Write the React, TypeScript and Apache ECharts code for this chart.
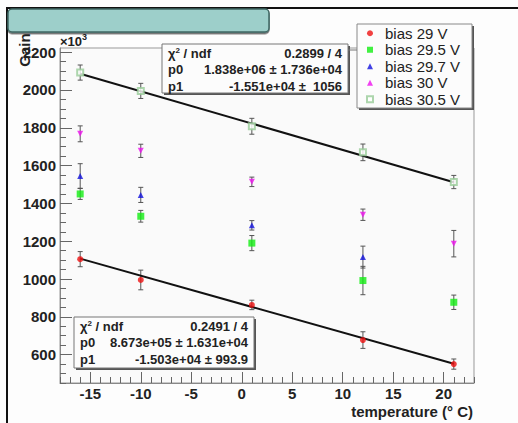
import React, { useEffect, useRef } from 'react';
import * as echarts from 'echarts';

// Data (Gain in units of 10^3)
const temps = [-16, -10, 1, 12, 21];
const gain29 = [1105, 995, 863, 677, 550];
const err29 = [40, 52, 25, 44, 27];
const gain295 = [1450, 1332, 1190, 992, 877];
const err295 = [29, 31, 40, 75, 38];
const temps297 = [-16, -10, 1, 12];
const gain297 = [1545, 1445, 1284, 1116];
const err297 = [65, 40, 25, 58];
const gain30 = [1768, 1678, 1514, 1340, 1187];
const err30 = [42, 35, 25, 30, 70];
const gain305 = [2092, 1995, 1808, 1670, 1513];
const err305 = [40, 40, 42, 44, 35];

const fit29 = { p0: 867.3, p1: -15.03 };
const fit305 = { p0: 1838, p1: -15.51 };

const xMajor = [-15, -10, -5, 0, 5, 10, 15, 20];
const yMajor = [600, 800, 1000, 1200, 1400, 1600, 1800, 2000, 2200];
const xRange = [-18, 23];
const yRange = [450, 2222];

const statTop = [
  ['\u03c7{sup|2} / ndf', '0.2899 / 4'],
  ['p0', '1.838e+06 \u00b1 1.736e+04'],
  ['p1', '-1.551e+04 \u00b1  1056'],
];
const statBottom = [
  ['\u03c7{sup|2} / ndf', '0.2491 / 4'],
  ['p0', '8.673e+05 \u00b1 1.631e+04'],
  ['p1', '-1.503e+04 \u00b1 993.9'],
];

const FONT = '"Liberation Sans", Arial, sans-serif';

function range(a: number, b: number, s: number) {
  const r: number[] = [];
  for (let v = a; v <= b + 1e-9; v += s) r.push(v);
  return r;
}

function zip(xs: number[], ys: number[], es?: number[]) {
  return xs.map((x, i) => (es ? [x, ys[i], es[i]] : [x, ys[i]]));
}

function fitLine(f: { p0: number; p1: number }, xs: number[]) {
  const a = xs[0];
  const b = xs[xs.length - 1];
  return [[a, f.p0 + f.p1 * a], [b, f.p0 + f.p1 * b]];
}

function errSeries(data: number[][]) {
  return {
    type: 'custom',
    xAxisIndex: 0,
    yAxisIndex: 0,
    encode: { x: 0, y: 1 },
    z: 3,
    silent: true,
    data,
    renderItem: (params: any, api: any) => {
      const x = api.value(0);
      const y = api.value(1);
      const e = api.value(2);
      const t = api.coord([x, y + e]);
      const b = api.coord([x, y - e]);
      const w = 2.5;
      const st = { stroke: '#555', lineWidth: 1 };
      return {
        type: 'group',
        children: [
          { type: 'line', shape: { x1: t[0], y1: t[1], x2: b[0], y2: b[1] }, style: st },
          { type: 'line', shape: { x1: t[0] - w, y1: t[1], x2: t[0] + w, y2: t[1] }, style: st },
          { type: 'line', shape: { x1: b[0] - w, y1: b[1], x2: b[0] + w, y2: b[1] }, style: st },
        ],
      };
    },
  };
}

function statBox(x: number, y: number, w: number, h: number, rows: string[][]) {
  const children: any[] = [
    { type: 'rect', shape: { x: x + 2, y: y + 2, width: w, height: h }, style: { fill: '#555' } },
    { type: 'rect', shape: { x, y, width: w, height: h }, style: { fill: '#fcfcfc', stroke: '#777', lineWidth: 1 } },
  ];
  rows.forEach((r, i) => {
    const ty = y + 9 + i * 16.5;
    children.push({
      type: 'text',
      x: x + 6,
      y: ty,
      style: {
        text: r[0],
        fontFamily: FONT,
        fontWeight: 'bold',
        fontSize: 13,
        fill: '#222',
        verticalAlign: 'middle',
        rich: { sup: { fontSize: 8, fontWeight: 'bold', verticalAlign: 'top', padding: [0, 0, 6, 0], fill: '#222' } },
      },
    });
    children.push({
      type: 'text',
      x: x + w - 6,
      y: ty,
      style: {
        text: r[1],
        fontFamily: FONT,
        fontWeight: 'bold',
        fontSize: 13,
        fill: '#222',
        align: 'right',
        verticalAlign: 'middle',
      },
    });
  });
  return { type: 'group', z: 100, children };
}

export default function App() {
  const ref = useRef<HTMLDivElement>(null);
  useEffect(() => {
    if (!ref.current) return;
    const chart = echarts.init(ref.current, null, { renderer: 'svg' });
    const tickLine = { lineStyle: { color: '#666', width: 1 } };
    const option: any = {
      animation: false,
      backgroundColor: '#fdfdfd',
      grid: {
        left: 60,
        right: 44,
        top: 48,
        bottom: 40,
        show: true,
        backgroundColor: '#fafafa',
        borderColor: '#999',
        borderWidth: 1,
      },
      xAxis: [
        {
          type: 'value',
          min: xRange[0],
          max: xRange[1],
          axisLine: { show: true, onZero: false, lineStyle: { color: '#888' } },
          axisTick: { show: true, inside: true, length: 11, customValues: xMajor, ...tickLine },
          axisLabel: {
            customValues: xMajor,
            fontFamily: FONT,
            fontWeight: 'bold',
            fontSize: 15,
            color: '#222',
            margin: 3,
            formatter: (v: number) => String(v),
          },
          splitLine: { show: false },
        },
        {
          type: 'value',
          min: xRange[0],
          max: xRange[1],
          position: 'bottom',
          axisLine: { show: false, onZero: false },
          axisTick: { show: true, inside: true, length: 6, customValues: range(-18, 23, 1), ...tickLine },
          axisLabel: { show: false },
          splitLine: { show: false },
        },
      ],
      yAxis: [
        {
          type: 'value',
          min: yRange[0],
          max: yRange[1],
          axisLine: { show: true, onZero: false, lineStyle: { color: '#888' } },
          axisTick: { show: true, inside: true, length: 12, customValues: yMajor, ...tickLine },
          axisLabel: {
            customValues: yMajor,
            fontFamily: FONT,
            fontWeight: 'bold',
            fontSize: 15,
            color: '#222',
            margin: 4,
            formatter: (v: number) => String(v),
          },
          splitLine: { show: false },
        },
        {
          type: 'value',
          min: yRange[0],
          max: yRange[1],
          position: 'left',
          axisLine: { show: false, onZero: false },
          axisTick: { show: true, inside: true, length: 6, customValues: range(450, 2200, 50), ...tickLine },
          axisLabel: { show: false },
          splitLine: { show: false },
        },
      ],
      legend: {
        orient: 'vertical',
        left: 366,
        top: 25,
        padding: 0,
        itemGap: 0,
        itemWidth: 6,
        itemHeight: 6,
        textStyle: { fontFamily: FONT, fontSize: 15, color: '#222', lineHeight: 16.5, padding: [0, 0, 0, 7] },
        data: ['bias 29 V', 'bias 29.5 V', 'bias 29.7 V', 'bias 30 V', 'bias 30.5 V'],
        z: 120,
      },
      series: [
        errSeries(zip(temps, gain29, err29)),
        errSeries(zip(temps, gain295, err295)),
        errSeries(zip(temps297, gain297, err297)),
        errSeries(zip(temps, gain30, err30)),
        errSeries(zip(temps, gain305, err305)),
        {
          type: 'line',
          data: fitLine(fit29, temps),
          showSymbol: false,
          symbol: 'none',
          lineStyle: { color: '#111', width: 2 },
          silent: true,
          z: 4,
        },
        {
          type: 'line',
          data: fitLine(fit305, temps),
          showSymbol: false,
          symbol: 'none',
          lineStyle: { color: '#111', width: 2 },
          silent: true,
          z: 4,
        },
        {
          name: 'bias 29 V',
          type: 'scatter',
          symbol: 'circle',
          symbolSize: 6,
          itemStyle: { color: '#ee1111' },
          data: zip(temps, gain29),
          z: 5,
        },
        {
          name: 'bias 29.5 V',
          type: 'scatter',
          symbol: 'rect',
          symbolSize: 7,
          itemStyle: { color: '#11ee11' },
          data: zip(temps, gain295),
          z: 5,
        },
        {
          name: 'bias 29.7 V',
          type: 'scatter',
          symbol: 'triangle',
          symbolSize: 6,
          itemStyle: { color: '#1111dd' },
          data: zip(temps297, gain297),
          z: 5,
        },
        {
          name: 'bias 30 V',
          type: 'scatter',
          symbol: 'triangle',
          symbolRotate: 180,
          symbolSize: 6,
          itemStyle: { color: '#ee11ee' },
          data: zip(temps, gain30),
          z: 5,
        },
        {
          name: 'bias 30.5 V',
          type: 'scatter',
          symbol: 'emptyRect',
          symbolSize: 6,
          itemStyle: { color: '#99cc99', borderColor: '#99cc99', borderWidth: 1 },
          data: zip(temps, gain305),
          z: 5,
        },
      ],
      graphic: [
        {
          type: 'rect',
          z: 90,
          shape: { x: 7, y: 8, width: 540, height: 440 },
          style: { fill: null, stroke: '#111', lineWidth: 2 },
        },
        {
          type: 'rect',
          z: 95,
          shape: { x: 8, y: 9, width: 261, height: 23, r: 4 },
          style: {
            fill: '#9dcfca',
            stroke: '#3f6763',
            lineWidth: 1.5,
            shadowColor: 'rgba(0,0,0,0.6)',
            shadowOffsetY: 1.5,
            shadowBlur: 1,
          },
        },
        {
          type: 'text',
          z: 100,
          x: 60,
          y: 41,
          style: {
            text: '\u00d710{sup|3}',
            fontFamily: FONT,
            fontWeight: 'bold',
            fontSize: 13,
            fill: '#222',
            verticalAlign: 'middle',
            rich: { sup: { fontSize: 9, fontWeight: 'bold', verticalAlign: 'top', padding: [0, 0, 8, 0], fill: '#222' } },
          },
        },
        {
          type: 'text',
          z: 100,
          x: 24,
          y: 50,
          rotation: Math.PI / 2,
          style: {
            text: 'Gain',
            fontFamily: FONT,
            fontWeight: 'bold',
            fontSize: 15,
            fill: '#222',
            align: 'center',
            verticalAlign: 'middle',
          },
        },
        {
          type: 'text',
          z: 100,
          x: 473,
          y: 411,
          style: {
            text: 'temperature (\u00b0 C)',
            fontFamily: FONT,
            fontWeight: 'bold',
            fontSize: 15,
            fill: '#222',
            align: 'right',
            verticalAlign: 'middle',
          },
        },
        {
          type: 'line',
          z: 100,
          shape: { x1: 348, y1: 50, x2: 357, y2: 50 },
          style: { stroke: '#777', lineWidth: 1 },
        },
        statBox(162, 44, 186, 49, statTop),
        statBox(74, 317, 180, 51, statBottom),
        {
          type: 'group',
          z: 100,
          children: [
            { type: 'rect', shape: { x: 359, y: 26, width: 115, height: 84 }, style: { fill: '#555' } },
            { type: 'rect', shape: { x: 357, y: 24, width: 115, height: 84 }, style: { fill: '#fcfcfc', stroke: '#888', lineWidth: 1 } },
          ],
        },
      ],
    };
    chart.setOption(option);
    return () => chart.dispose();
  }, []);
  return (
    <div
      ref={ref}
      style={{ position: 'absolute', left: 0, top: 0, width: 518, height: 423, background: '#fdfdfd' }}
    />
  );
}
